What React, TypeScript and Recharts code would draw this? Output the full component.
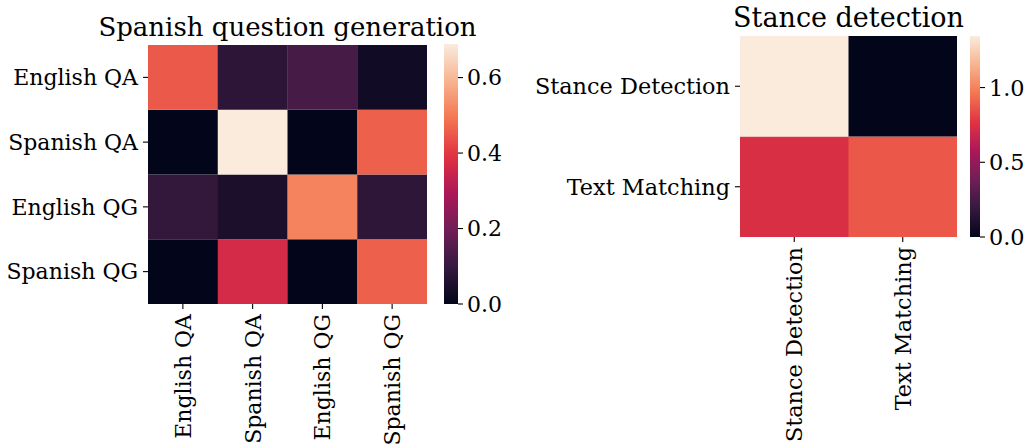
import React from 'react';
import { BarChart, Bar, XAxis, YAxis, Cell } from 'recharts';

// Spanish question generation (rows = labels top->bottom, columns = labels left->right)
const qgLabels = ['English QA', 'Spanish QA', 'English QG', 'Spanish QG'];
const qgRowEnglishQA = [0.45, 0.08, 0.127, 0.03];
const qgRowSpanishQA = [0.0, 0.689, 0.0, 0.462];
const qgRowEnglishQG = [0.094, 0.048, 0.512, 0.083];
const qgRowSpanishQG = [0.0, 0.37, 0.0, 0.462];
const qgColorbarTicks = [0, 0.2, 0.4, 0.6];

// Stance detection
const sdLabels = ['Stance Detection', 'Text Matching'];
const sdRowStance = [1.345, 0.0];
const sdRowText = [0.74, 0.875];
const sdColorbarTicks = [0, 0.5, 1.0];

const FONT = '"DejaVu Serif", serif';

// seaborn "rocket" colormap stops
const rocketStops: [number, string][] = [
  [0, '#03051a'],
  [1 / 7, '#35193e'],
  [2 / 7, '#701f57'],
  [3 / 7, '#ad1759'],
  [4 / 7, '#e13342'],
  [5 / 7, '#f37651'],
  [6 / 7, '#f6b48f'],
  [1, '#faebdd'],
];

function hexToRgb(h: string) {
  return [parseInt(h.slice(1, 3), 16), parseInt(h.slice(3, 5), 16), parseInt(h.slice(5, 7), 16)];
}
function rocket(t: number) {
  const v = Math.max(0, Math.min(1, t));
  for (let i = 0; i < rocketStops.length - 1; i++) {
    const [a, ca] = rocketStops[i];
    const [b, cb] = rocketStops[i + 1];
    if (v <= b) {
      const f = (v - a) / (b - a);
      const A = hexToRgb(ca);
      const B = hexToRgb(cb);
      const c = A.map((x, k) => Math.round(x + (B[k] - x) * f));
      return `rgb(${c[0]},${c[1]},${c[2]})`;
    }
  }
  return rocketStops[rocketStops.length - 1][1];
}

const makeRotTick = (fs: number) => (props: any) => {
  const { x, y, payload } = props;
  return (
    <g transform={`translate(${x},${y})`}>
      <text transform="rotate(-90)" textAnchor="end" dy="0.36em" fontSize={fs} fontFamily={FONT} fill="#000">
        {payload.value}
      </text>
    </g>
  );
};

type HeatProps = {
  labels: string[];
  matrix: number[][];
  left: number;
  axisW: number;
  top: number;
  plotW: number;
  plotH: number;
  fs: number;
};

function Heatmap({ labels, matrix, left, axisW, top, plotW, plotH, fs }: HeatProps) {
  const n = labels.length;
  const flat = matrix.flat();
  const vmax = Math.max(...flat);
  const vmin = Math.min(...flat);
  const data = labels.map((name) => {
    const o: any = { name };
    for (let k = 0; k < n; k++) o['r' + k] = 1;
    return o;
  });
  const yTicks = labels.map((_, i) => i + 0.5);
  const RotTick = makeRotTick(fs);
  return (
    <div style={{ position: 'absolute', left, top: 0 }}>
      <BarChart
        width={axisW + plotW}
        height={446}
        data={data}
        margin={{ top, right: 0, bottom: 0, left: 0 }}
        barCategoryGap={0}
        barGap={0}
      >
        <XAxis
          dataKey="name"
          type="category"
          height={446 - top - plotH}
          axisLine={false}
          tickLine={{ stroke: '#000', strokeWidth: 1.1 }}
          tickSize={5}
          tickMargin={5}
          interval={0}
          tick={<RotTick />}
        />
        <YAxis
          type="number"
          domain={[0, n]}
          ticks={yTicks}
          width={axisW}
          axisLine={false}
          tickLine={{ stroke: '#000', strokeWidth: 1.1 }}
          tickSize={5}
          tickMargin={5}
          interval={0}
          allowDataOverflow
          tickFormatter={(t: number) => labels[n - 1 - Math.floor(t)]}
          tick={{ fontSize: fs, fontFamily: FONT, fill: '#000' }}
        />
        {Array.from({ length: n }, (_, k) => (
          <Bar key={k} dataKey={'r' + k} stackId="s" isAnimationActive={false}>
            {labels.map((_, c) => (
              <Cell key={c} fill={rocket((matrix[n - 1 - k][c] - vmin) / (vmax - vmin))} />
            ))}
          </Bar>
        ))}
      </BarChart>
    </div>
  );
}

type CbProps = {
  id: string;
  vmax: number;
  ticks: number[];
  left: number;
  top: number;
  plotW: number;
  plotH: number;
  axisW: number;
  fs: number;
};

function Colorbar({ id, vmax, ticks, left, top, plotW, plotH, axisW, fs }: CbProps) {
  const data = [{ name: 'cb', v: vmax }];
  return (
    <div style={{ position: 'absolute', left, top: 0 }}>
      <BarChart
        width={plotW + axisW}
        height={446}
        data={data}
        margin={{ top, right: 0, bottom: 446 - top - plotH, left: 0 }}
        barCategoryGap={0}
        barGap={0}
      >
        <defs>
          <linearGradient id={id} x1="0" y1="1" x2="0" y2="0">
            {rocketStops.map(([o, c], i) => (
              <stop key={i} offset={o} stopColor={c} />
            ))}
          </linearGradient>
        </defs>
        <XAxis dataKey="name" type="category" hide />
        <YAxis
          type="number"
          orientation="right"
          domain={[0, vmax]}
          ticks={ticks}
          width={axisW}
          axisLine={false}
          tickLine={{ stroke: '#000', strokeWidth: 1.1 }}
          tickSize={5}
          tickMargin={4}
          interval={0}
          allowDataOverflow
          tickFormatter={(t: number) => t.toFixed(1)}
          tick={{ fontSize: fs, fontFamily: FONT, fill: '#000' }}
        />
        <Bar dataKey="v" fill={`url(#${id})`} isAnimationActive={false} />
      </BarChart>
    </div>
  );
}

export default function App() {
  const qgMatrix = [qgRowEnglishQA, qgRowSpanishQA, qgRowEnglishQG, qgRowSpanishQG];
  const sdMatrix = [sdRowStance, sdRowText];
  const qgMax = Math.max(...qgMatrix.flat());
  const sdMax = Math.max(...sdMatrix.flat());
  return (
    <div
      style={{
        position: 'absolute',
        left: 0,
        top: 0,
        width: 1029,
        height: 446,
        overflow: 'hidden',
        background: '#fff',
      }}
    >
      <Heatmap labels={qgLabels} matrix={qgMatrix} left={0} axisW={148} top={45} plotW={279} plotH={259} fs={22} />
      <Colorbar id="cbQG" vmax={qgMax} ticks={qgColorbarTicks} left={444} top={44} plotW={14} plotH={260} axisW={60} fs={22} />
      <Heatmap labels={sdLabels} matrix={sdMatrix} left={520} axisW={220} top={36} plotW={217} plotH={201} fs={22.4} />
      <Colorbar id="cbSD" vmax={sdMax} ticks={sdColorbarTicks} left={970} top={36} plotW={10} plotH={201} axisW={49} fs={22.4} />
      <svg width={1029} height={446} style={{ position: 'absolute', left: 0, top: 0, pointerEvents: 'none' }}>
        <text x={287.5} y={36} textAnchor="middle" fontSize={26} fontFamily={FONT} fill="#000">
          Spanish question generation
        </text>
        <text x={848.5} y={27} textAnchor="middle" fontSize={27} fontFamily={FONT} fill="#000">
          Stance detection
        </text>
      </svg>
    </div>
  );
}
